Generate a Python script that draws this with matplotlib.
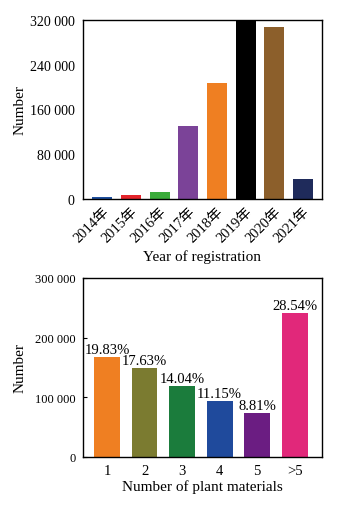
import matplotlib.pyplot as plt

plt.rcParams['font.family'] = ['Liberation Serif', 'Noto Sans CJK SC']

years = ['2014年', '2015年', '2016年', '2017年', '2018年', '2019年', '2020年', '2021年']
year_counts = [3600, 7100, 12500, 129800, 206800, 322000, 306900, 35700]
year_colors = ['#1f4f9e', '#e3242b', '#3aab3a', '#7b4398', '#ef7f22', '#000000', '#8c5f2b', '#1f2b5b']

plants = ['1', '2', '3', '4', '5', '>5']
plant_counts = [167300, 148900, 119300, 94200, 74200, 241400]
plant_pct = ['19.83%', '17.63%', '14.04%', '11.15%', '8.81%', '28.54%']
plant_colors = ['#ef7f22', '#7b7b30', '#1b7c3c', '#1f4a9c', '#6b1d82', '#e1287a']

fig = plt.figure(figsize=(3.37, 5.10), dpi=100)

# top chart: by year
ax1 = fig.add_axes([0.246, 0.608, 0.709, 0.351])
x1 = range(len(years))
ax1.bar(x1, year_counts, width=0.69, color=year_colors)
ax1.set_ylim(0, 320000)
ax1.set_xlim(-0.68, len(years) - 0.34)
ax1.set_yticks([0, 80000, 160000, 240000, 320000])
ax1.set_yticklabels(['0', '80 000', '160 000', '240 000', '320 000'])
ax1.set_xticks(list(x1))
ax1.set_xticklabels(years, rotation=45, ha='right', rotation_mode='anchor')
ax1.tick_params(axis='y', direction='in', length=0, labelsize=10, pad=6)
ax1.tick_params(axis='x', direction='in', length=0, labelsize=10.5, pad=4)
ax1.set_ylabel('Number', fontsize=11, labelpad=2)
ax1.set_xlabel('Year of registration', fontsize=11, labelpad=3)
for s in ax1.spines.values():
    s.set_linewidth(1.0)

# bottom chart: by number of plant materials
ax2 = fig.add_axes([0.246, 0.102, 0.709, 0.351])
x2 = range(len(plants))
bars = ax2.bar(x2, plant_counts, width=0.69, color=plant_colors)
for b, p in zip(bars, plant_pct):
    ax2.text(b.get_x() + b.get_width() / 2, b.get_height() + 2000, p,
             ha='center', va='bottom', fontsize=10.5)
ax2.set_ylim(0, 300000)
ax2.set_xlim(-0.64, len(plants) - 0.28)
ax2.set_yticks([0, 100000, 200000, 300000])
ax2.set_yticklabels(['0', '100 000', '200 000', '300 000'])
ax2.set_xticks(list(x2))
ax2.set_xticklabels(plants)
ax2.tick_params(axis='y', direction='in', length=3, labelsize=9, pad=5)
ax2.tick_params(axis='x', direction='in', length=0, labelsize=10.5, pad=5)
ax2.set_ylabel('Number', fontsize=11, labelpad=6)
ax2.set_xlabel('Number of plant materials', fontsize=11, labelpad=2)
for s in ax2.spines.values():
    s.set_linewidth(1.0)

fig.savefig('out.png', dpi=100)
